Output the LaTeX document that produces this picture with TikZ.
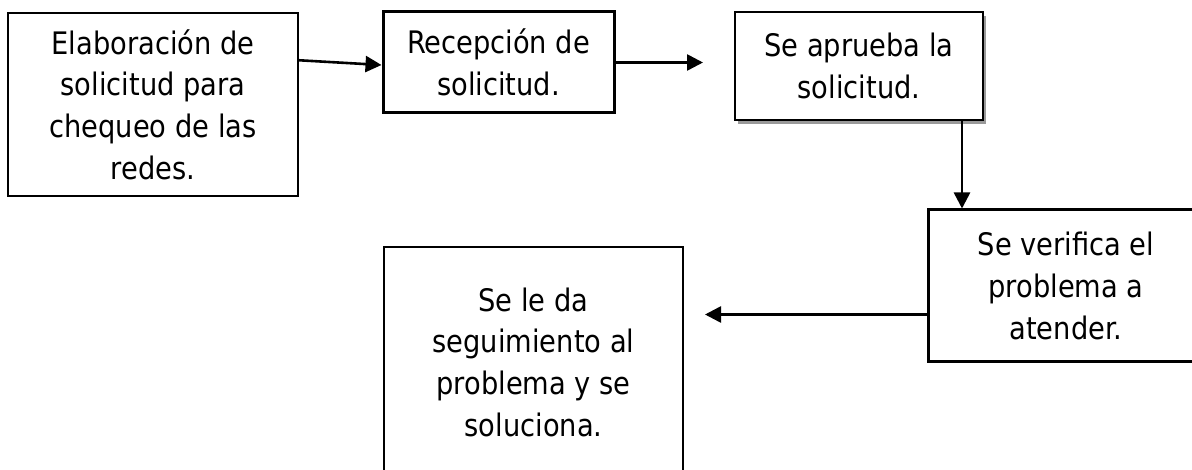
\documentclass[tikz,border=0pt]{standalone}
\usepackage{fontspec}
\setmainfont{DejaVu Sans}[FakeStretch=0.88]
\usetikzlibrary{arrows.meta,shadows}
\definecolor{solInk}{HTML}{000000}
\definecolor{solShade}{HTML}{9A9A9A}
\tikzset{
  sol box/.style={rectangle, draw=solInk, inner sep=0pt, align=center, text=solInk,
    font=\fontsize{31pt}{41.7pt}\selectfont},
  sol thin/.style={sol box, line width=1.5pt},
  sol thick/.style={sol box, line width=3pt},
  sol shade/.style={sol box, line width=2pt, fill=white,
    drop shadow={shadow xshift=3pt, shadow yshift=-4pt, fill=solShade, opacity=1}},
  sol flow/.style={draw=solInk, line width=2.6pt, -{Triangle[length=16pt,width=16pt]}},
}
\begin{document}
\begin{tikzpicture}[x=1pt,y=-1pt]
\useasboundingbox (0,0) rectangle (1192,470);
\clip (0,0) rectangle (1192,470);
% cajas
\node[sol thin, minimum width=290pt, minimum height=183pt] (elab) at (153,104.5)
  {Elaboración de\\solicitud para\\chequeo de las\\redes.};
\node[sol thick, minimum width=231pt, minimum height=101pt] (recep) at (498.5,62.5)
  {Recepción de\\solicitud.};
\node[sol shade, minimum width=248pt, minimum height=108pt] (aprueba) at (859,66)
  {Se aprueba la\\solicitud.};
\node[sol thick, minimum width=276pt, minimum height=152pt] (verif) at (1066,286)
  {Se verifica el\\problema a\\atender.};
\node[sol thin, minimum width=299pt, minimum height=230pt] (segui) at (533.5,362)
  {Se le da\\seguimiento al\\problema y se\\soluciona.};
% flechas
\coordinate (recepEnd) at (703,62.5);
\coordinate (aprBase) at ([xshift=103pt]aprueba.south);
\coordinate (verifEnd) at (705,314.5);
\draw[sol flow] ([yshift=-48pt]elab.north east) -- ([yshift=-2.5pt]recep.west);
\draw[sol flow] (recep.east) -- (recepEnd);
\draw[sol flow] (aprBase) -- (aprBase |- verif.north);
\draw[sol flow] (verif.west |- verifEnd) -- (verifEnd);
\end{tikzpicture}
\end{document}
